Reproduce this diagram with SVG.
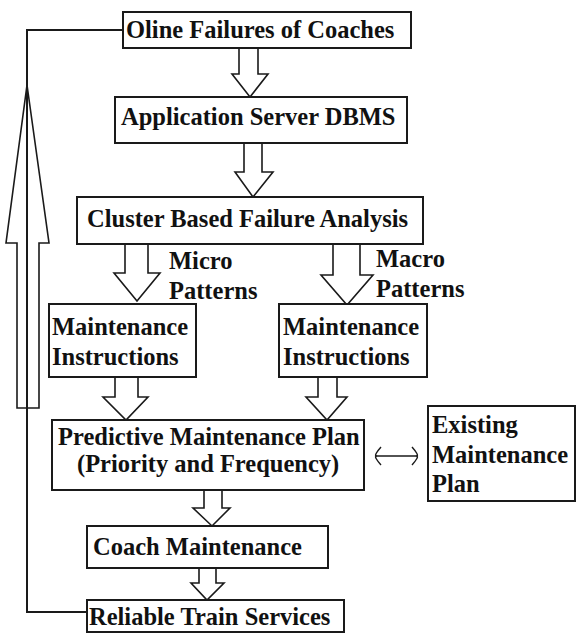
<svg xmlns="http://www.w3.org/2000/svg" width="576" height="635" viewBox="0 0 576 635">
  <style>
    .box { fill: #ffffff; stroke: #1a1a1a; stroke-width: 2; }
    .lbl { font-family: "Liberation Serif", "Times New Roman", serif; font-weight: bold; font-size: 24.5px; fill: #111111; }
    .blk { fill: #ffffff; stroke: #1a1a1a; stroke-width: 1.6; stroke-linejoin: miter; }
    .wire { fill: none; stroke: #1a1a1a; stroke-width: 2; }
    .thin { fill: none; stroke: #1a1a1a; stroke-width: 1.4; }
  </style>
  <rect width="576" height="635" fill="#ffffff"/>

  <g id="connectors">
    <!-- feedback loop from Reliable Train Services back to the top -->
    <path class="wire" d="M123,30 H27 V612 H87"/>
    <!-- large hollow upward arrow riding on the feedback line -->
    <path class="blk" d="M17,408 V243 H6 L27,85 L49,243 H39 V408 Z"/>
    <line class="wire" x1="27" y1="85" x2="27" y2="408"/>
    <!-- block arrows between steps -->
    <path class="blk" d="M239,48 V74 H232 L250,97 L268,74 H258 V48"/>
    <path class="blk" d="M244,143 V172 H235 L253,197 L273,172 H262 V143"/>
    <path class="blk" d="M125,244 V273 H114 L137,301 L160,273 H148 V244"/>
    <path class="blk" d="M333,244 V275 H321 L347,305 L373,275 H360 V244"/>
    <path class="blk" d="M115,377 V397 H103 L126,420 L148,397 H138 V377"/>
    <path class="blk" d="M318,377 V397 H306 L327,420 L347,397 H337 V377"/>
    <path class="blk" d="M204,490 V508 H193 L212,526 L230,508 H222 V490"/>
    <path class="blk" d="M199,568 V583 H191 L207,600 L224,583 H216 V568"/>
    <!-- two-way link to the existing plan -->
    <line class="thin" x1="376" y1="456" x2="417" y2="456"/>
    <path class="thin" d="M381,447 Q374,455 376,456 Q374,457 381,465"/>
    <path class="thin" d="M412,447 Q419,455 417,456 Q419,457 412,465"/>
  </g>

  <g id="online-failures">
    <rect class="box" x="123" y="12" width="288" height="36"/>
    <text class="lbl" x="126" y="38">Oline Failures of Coaches</text>
  </g>

  <g id="app-server">
    <rect class="box" x="115" y="97" width="292" height="46"/>
    <text class="lbl" x="121" y="125">Application Server DBMS</text>
  </g>

  <g id="cluster-analysis">
    <rect class="box" x="77" y="197" width="346" height="47"/>
    <text class="lbl" x="87" y="227">Cluster Based Failure Analysis</text>
  </g>

  <g id="micro-label">
    <text class="lbl" x="169" y="269">Micro</text>
    <text class="lbl" x="169" y="299">Patterns</text>
  </g>

  <g id="macro-label">
    <text class="lbl" x="376" y="267">Macro</text>
    <text class="lbl" x="376" y="297">Patterns</text>
  </g>

  <g id="instructions-micro">
    <rect class="box" x="49" y="304" width="147" height="73"/>
    <text class="lbl" x="52" y="335">Maintenance</text>
    <text class="lbl" x="52" y="365">Instructions</text>
  </g>

  <g id="instructions-macro">
    <rect class="box" x="279" y="304" width="148" height="73"/>
    <text class="lbl" x="283" y="335">Maintenance</text>
    <text class="lbl" x="283" y="365">Instructions</text>
  </g>

  <g id="predictive-plan">
    <rect class="box" x="52" y="420" width="312" height="70"/>
    <text class="lbl" x="58" y="445">Predictive Maintenance Plan</text>
    <text class="lbl" x="77" y="472">(Priority and Frequency)</text>
  </g>

  <g id="existing-plan">
    <rect class="box" x="428" y="406" width="147" height="95"/>
    <text class="lbl" x="432" y="433">Existing</text>
    <text class="lbl" x="432" y="463">Maintenance</text>
    <text class="lbl" x="432" y="492">Plan</text>
  </g>

  <g id="coach-maintenance">
    <rect class="box" x="87" y="526" width="241" height="42"/>
    <text class="lbl" x="93" y="555">Coach Maintenance</text>
  </g>

  <g id="reliable-services">
    <rect class="box" x="87" y="600" width="257" height="32"/>
    <text class="lbl" x="89" y="625">Reliable Train Services</text>
  </g>
</svg>
